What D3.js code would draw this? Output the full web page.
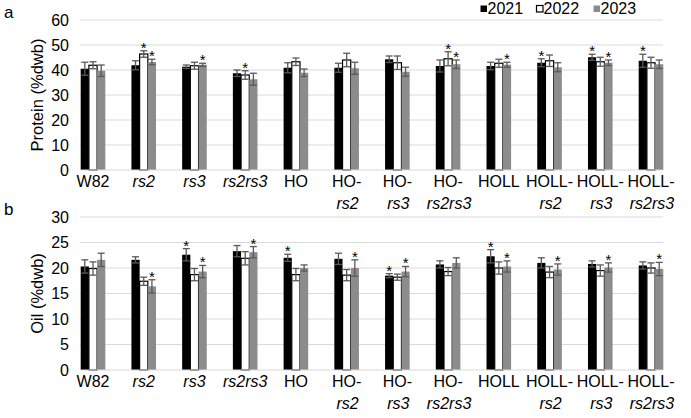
<!DOCTYPE html>
<html>
<head>
<meta charset="utf-8">
<script src="https://cdn.jsdelivr.net/npm/d3@7"></script>
<style>
  body { margin: 0; background: #fff; }
  svg { font-family: "Liberation Sans", Arial, sans-serif; }
</style>
</head>
<body>
<div id="chart"></div>
<script>
let w = 691;
let h = 418;

// genotypes: first line / second line (second line is italic)
let labelTop = ["W82", "", "", "", "HO", "HO-", "HO-", "HO-", "HOLL", "HOLL-", "HOLL-", "HOLL-"];
let labelItalic = ["", "rs2", "rs3", "rs2rs3", "", "rs2", "rs3", "rs2rs3", "", "rs2", "rs3", "rs2rs3"];
let categories = ["W82", "rs2", "rs3", "rs2rs3", "HO", "HO-rs2", "HO-rs3", "HO-rs2rs3", "HOLL", "HOLL-rs2", "HOLL-rs3", "HOLL-rs2rs3"];
let years = ["2021", "2022", "2023"];

// protein (%dwb)
let protein2021 = [40.5, 41.9, 41.3, 38.7, 40.9, 40.9, 44.3, 41.6, 41.6, 42.9, 45.1, 43.7];
let protein2022 = [41.9, 46.4, 41.7, 38.0, 43.3, 44.0, 42.9, 44.5, 42.7, 43.7, 43.3, 42.9];
let protein2023 = [39.7, 43.2, 42.1, 36.3, 38.9, 40.7, 39.3, 42.3, 42.1, 41.1, 42.9, 42.3];
let proteinErr2021 = [2.6, 1.8, 0.7, 1.3, 2.0, 1.8, 1.3, 2.4, 1.5, 1.6, 1.2, 2.6];
let proteinErr2022 = [1.4, 1.3, 1.4, 1.7, 1.5, 2.7, 2.7, 2.8, 1.6, 2.3, 1.8, 2.2];
let proteinErr2023 = [2.3, 1.1, 0.6, 2.4, 1.5, 2.4, 1.8, 1.7, 1.0, 1.8, 1.1, 1.7];
let proteinStar2021 = [0, 0, 0, 0, 0, 0, 0, 0, 0, 1, 1, 1];
let proteinStar2022 = [0, 1, 0, 1, 0, 0, 0, 1, 0, 0, 0, 0];
let proteinStar2023 = [0, 1, 1, 0, 0, 0, 0, 1, 1, 0, 1, 0];
let proteinTicks = [0, 10, 20, 30, 40, 50, 60];

// oil (%dwb)
let oil2021 = [20.3, 21.6, 22.6, 23.3, 22.0, 21.8, 18.5, 20.7, 22.3, 21.0, 20.8, 20.5];
let oil2022 = [19.9, 17.4, 18.7, 21.9, 18.7, 18.6, 18.2, 19.3, 20.0, 19.2, 19.5, 20.0];
let oil2023 = [21.6, 16.4, 19.3, 23.1, 20.0, 20.0, 19.3, 21.0, 20.3, 19.7, 20.1, 19.8];
let oilErr2021 = [1.3, 0.6, 1.2, 1.1, 0.7, 1.1, 0.4, 0.7, 1.3, 1.0, 0.6, 0.7];
let oilErr2022 = [1.3, 0.8, 1.2, 1.3, 1.2, 1.1, 0.6, 0.8, 1.2, 1.1, 1.1, 1.0];
let oilErr2023 = [1.3, 1.3, 1.2, 1.1, 0.6, 1.6, 1.0, 1.0, 1.1, 1.1, 0.9, 1.3];
let oilStar2021 = [0, 0, 1, 0, 1, 0, 1, 0, 1, 0, 0, 0];
let oilStar2022 = [0, 0, 0, 0, 0, 0, 0, 0, 0, 0, 0, 0];
let oilStar2023 = [0, 1, 1, 1, 0, 1, 1, 0, 1, 1, 1, 1];
let oilTicks = [0, 5, 10, 15, 20, 25, 30];

let fills = {"2021": "#000000", "2022": "#ffffff", "2023": "#8c8c8c"};

let viz = d3.select("#chart")
  .append("svg")
    .attr("width", w)
    .attr("height", h);

// group centers and bars inside a group
let xScale = d3.scalePoint().domain(categories).range([93, 651]);
let barW = 8.2;
let inner = d3.scaleBand().domain(years).range([-barW * 1.5, barW * 1.5]);

function drawPanel(opt) {
  let yScale = d3.scaleLinear().domain([0, opt.max]).range([opt.bottom, opt.top]);
  let g = viz.append("g");

  // gridlines
  g.selectAll(".grid").data(opt.ticks.slice(1)).enter()
    .append("line")
      .attr("x1", 80).attr("x2", 663)
      .attr("y1", d => yScale(d)).attr("y2", d => yScale(d))
      .attr("stroke", "#d9d9d9").attr("stroke-width", 1.2);

  // y axis labels via d3 axis, then strip the lines
  let yAxis = d3.axisLeft(yScale).tickValues(opt.ticks).tickSize(0).tickPadding(0);
  let ya = g.append("g").attr("transform", "translate(69,0)").call(yAxis);
  ya.select(".domain").remove();
  ya.selectAll("text")
    .attr("font-size", 16)
    .attr("font-family", "Liberation Sans, Arial, sans-serif")
    .attr("fill", "#000");

  // y title
  g.append("text")
    .attr("transform", "translate(43," + (opt.top + opt.bottom) / 2 + ") rotate(-90)")
    .attr("text-anchor", "middle")
    .attr("font-size", 16.5)
    .text(opt.title);

  // panel letter
  g.append("text")
    .attr("x", 4).attr("y", opt.top - 2)
    .attr("font-size", 17)
    .text(opt.letter);

  let rows = [];
  years.forEach((yr, k) => {
    categories.forEach((c, i) => {
      rows.push({cat: c, year: yr, v: opt.vals[k][i], e: opt.errs[k][i], star: opt.stars[k][i]});
    });
  });

  // bars
  g.selectAll(".bar").data(rows).enter()
    .append("rect")
      .attr("x", d => xScale(d.cat) + inner(d.year))
      .attr("y", d => yScale(d.v))
      .attr("width", inner.bandwidth())
      .attr("height", d => yScale(0) - yScale(d.v))
      .attr("fill", d => fills[d.year])
      .attr("stroke", d => d.year == "2022" ? "#000" : "none")
      .attr("stroke-width", 1.2);

  // error bars
  let eb = g.selectAll(".err").data(rows).enter().append("g")
    .attr("transform", d => "translate(" + (xScale(d.cat) + inner(d.year) + inner.bandwidth() / 2) + ",0)");
  eb.append("line")
    .attr("y1", d => yScale(d.v - d.e)).attr("y2", d => yScale(d.v + d.e))
    .attr("stroke", "#595959").attr("stroke-width", 1.3);
  eb.append("line")
    .attr("x1", -3.5).attr("x2", 3.5)
    .attr("y1", d => yScale(d.v + d.e)).attr("y2", d => yScale(d.v + d.e))
    .attr("stroke", "#595959").attr("stroke-width", 1.3);
  eb.append("line")
    .attr("x1", -3.5).attr("x2", 3.5)
    .attr("y1", d => yScale(d.v - d.e)).attr("y2", d => yScale(d.v - d.e))
    .attr("stroke", "#595959").attr("stroke-width", 1.3);

  // significance stars
  eb.filter(d => d.star).append("text")
    .attr("y", d => yScale(d.v + d.e) + 2)
    .attr("text-anchor", "middle")
    .attr("font-size", 15)
    .attr("fill", "#000")
    .text("*");

  // x axis line
  g.append("line")
    .attr("x1", 80).attr("x2", 663)
    .attr("y1", yScale(0)).attr("y2", yScale(0))
    .attr("stroke", "#d9d9d9").attr("stroke-width", 1.2);

  // category labels
  let lab = g.selectAll(".lab").data(categories).enter().append("text")
    .attr("text-anchor", "middle")
    .attr("font-size", 16);
  lab.append("tspan")
    .attr("x", d => xScale(d))
    .attr("y", opt.bottom + 17)
    .text((d, i) => labelTop[i]);
  lab.append("tspan")
    .attr("x", (d, i) => xScale(d) + (labelTop[i] ? 1 : 0))
    .attr("y", (d, i) => labelTop[i] ? opt.bottom + 39 : opt.bottom + 17)
    .attr("font-style", "italic")
    .text((d, i) => labelItalic[i]);
}

drawPanel({
  top: 20, bottom: 170, max: 60, ticks: proteinTicks,
  title: "Protein (%dwb)", letter: "a",
  vals: [protein2021, protein2022, protein2023],
  errs: [proteinErr2021, proteinErr2022, proteinErr2023],
  stars: [proteinStar2021, proteinStar2022, proteinStar2023]
});

drawPanel({
  top: 217, bottom: 370, max: 30, ticks: oilTicks,
  title: "Oil (%dwb)", letter: "b",
  vals: [oil2021, oil2022, oil2023],
  errs: [oilErr2021, oilErr2022, oilErr2023],
  stars: [oilStar2021, oilStar2022, oilStar2023]
});

// legend
let legX = [480, 536, 593];
let leg = viz.selectAll(".leg").data(years).enter().append("g")
  .attr("transform", (d, i) => "translate(" + legX[i] + ",0)");
leg.append("rect")
  .attr("x", 0.5).attr("y", 5.5).attr("width", 6.5).attr("height", 6.5)
  .attr("fill", d => fills[d])
  .attr("stroke", d => d == "2022" ? "#000" : "none")
  .attr("stroke-width", 1.2);
leg.append("text")
  .attr("x", 7.5).attr("y", 14)
  .attr("font-size", 16)
  .text(d => d);
</script>
</body>
</html>
